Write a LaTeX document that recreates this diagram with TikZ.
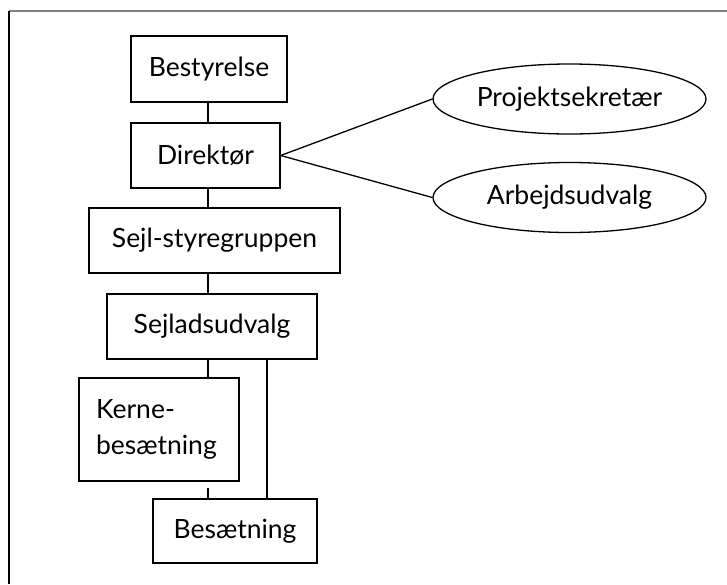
\documentclass[tikz,border=0pt]{standalone}
\usepackage{fontspec}
\setmainfont{Lato}
\usetikzlibrary{shapes.geometric}
\begin{document}
\begin{tikzpicture}[x=1pt,y=-1pt,
  box/.style={draw,line width=1.3pt,inner sep=0pt,font=\fontsize{26.5}{36}\selectfont},
  oval/.style={draw,ellipse,line width=1.3pt,inner sep=0pt,minimum width=273pt,minimum height=70pt,font=\fontsize{26.5}{36}\selectfont},
  link/.style={line width=1.3pt}]
\useasboundingbox (0,0) rectangle (727,584);
\draw[line width=1.2pt,gray] (9,11) -- (727,11);
\draw[line width=1.2pt] (9,11) -- (9,584);
\coordinate (ax) at (208,0);
\coordinate (bx) at (267,0);
\node[box,minimum width=156pt,minimum height=66pt] (best) at (209,69) {Bestyrelse};
\node[box,minimum width=149pt,minimum height=65pt] (dir) at (205.5,155.5) {Direktør};
\node[box,minimum width=251pt,minimum height=65pt] (sejl) at (214.5,240.5) {Sejl-styregruppen};
\node[box,minimum width=210pt,minimum height=65pt] (sud) at (212,326.5) {Sejladsudvalg};
\node[box,minimum width=160pt,minimum height=103pt,text width=126pt,align=left] (kerne) at (159,429.5) {Kerne-\\besætning};
\node[box,minimum width=164pt,minimum height=64pt] (bes) at (235,531) {Besætning};
\node[oval] (proj) at (569.5,99) {Projektsekretær};
\node[oval] (arb) at (569.5,197.5) {Arbejdsudvalg};
\draw[link] (best.south -| ax) -- (dir.north -| ax);
\draw[link] (dir.south -| ax) -- (sejl.north -| ax);
\draw[link] (sejl.south -| ax) -- (sud.north -| ax);
\draw[link] (sud.south -| ax) -- (kerne.north -| ax);
\draw[link] (sud.south -| bx) -- (bes.north -| bx);
\draw[link] ([yshift=-6pt]kerne.south -| ax) -- (bes.north -| ax);
\draw[link] (dir.east) -- (proj.west);
\draw[link] (dir.east) -- (arb.west);
\end{tikzpicture}
\end{document}
